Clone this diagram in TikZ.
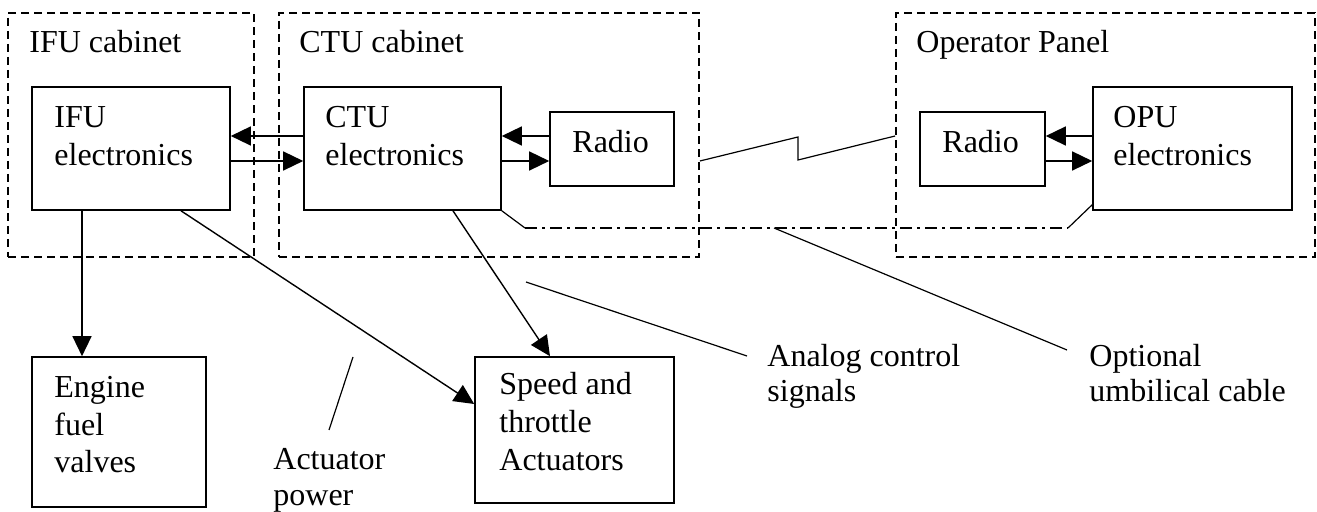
\documentclass[tikz,border=0pt]{standalone}
\usepackage{fontspec}
\setmainfont{Liberation Serif}
\usetikzlibrary{arrows.meta}
\begin{document}
\begin{tikzpicture}[x=0.5pt,y=-0.5pt,
  cab/.style={draw, line width=0.9pt, dash pattern=on 4pt off 2.5pt, minimum height=122pt, inner sep=0pt},
  blk/.style={draw, line width=0.8pt, inner sep=0pt},
  txt/.style={anchor=base west, inner sep=0pt, font=\fontsize{16pt}{18.8pt}\selectfont},
  arr/.style={line width=0.7pt, -{Triangle[length=10pt,width=9.5pt]}},
  ln/.style={line width=0.6pt},
  dd/.style={line width=0.6pt, dash pattern=on 6pt off 2.5pt on 1.5pt off 2.5pt}]
\useasboundingbox (0,0) rectangle (1317,512);
% cabinets
\node[cab, minimum width=123pt] (ifucab) at (131,135) {};
\node[cab, minimum width=210pt] (ctucab) at (489,135) {};
\node[cab, minimum width=209.5pt] (opcab) at (1105.5,135) {};
% blocks
\node[blk, minimum width=99pt, minimum height=61.5pt] (ifu) at (131,148.5) {};
\node[blk, minimum width=98.5pt, minimum height=61.5pt] (ctu) at (402.5,148.5) {};
\node[blk, minimum width=62pt, minimum height=37pt] (radioa) at (612,149) {};
\node[blk, minimum width=62.5pt, minimum height=37pt] (radiob) at (982.5,149) {};
\node[blk, minimum width=99.5pt, minimum height=61.5pt] (opu) at (1192.5,148.5) {};
\node[blk, minimum width=87pt, minimum height=75pt] (engine) at (119,432) {};
\node[blk, minimum width=99.5pt, minimum height=73pt] (speed) at (574.5,430) {};
% texts
\node[txt] (t1) at (29,53) {IFU cabinet};
\node[txt] (t2) at (299,53) {CTU cabinet};
\node[txt] (t3) at (916,53) {Operator Panel};
\node[txt] (t4) at (54,128) {IFU};
\node[txt] (t5) at (54,166) {electronics};
\node[txt] (t6) at (325,128) {CTU};
\node[txt] (t7) at (325,166) {electronics};
\node[txt] (t8) at (572,153) {Radio};
\node[txt] (t9) at (942,153) {Radio};
\node[txt] (t10) at (1113,128) {OPU};
\node[txt] (t11) at (1113,166) {electronics};
\node[txt] (t12) at (54,398) {Engine};
\node[txt] (t13) at (54,436) {fuel};
\node[txt] (t14) at (54,473) {valves};
\node[txt] (t15) at (499,395) {Speed and};
\node[txt] (t16) at (499,433) {throttle};
\node[txt] (t17) at (499,471) {Actuators};
\node[txt] (t18) at (273,470) {Actuator};
\node[txt] (t19) at (273,506) {power};
\node[txt] (t20) at (767,367) {Analog control};
\node[txt] (t21) at (767,402) {signals};
\node[txt] (t22) at (1089,367) {Optional};
\node[txt] (t23) at (1089,402) {umbilical cable};
% helper coordinates
\coordinate (yA) at (0,136);
\coordinate (yB) at (0,161);
\coordinate (xE) at (82,0);
\coordinate (xD) at (181,0);
\coordinate (yD) at (0,404);
\coordinate (xC) at (453,0);
\coordinate (xS) at (550,0);
% horizontal arrows
\draw[arr] (ctu.west |- yA) -- (ifu.east |- yA);
\draw[arr] (ifu.east |- yB) -- (ctu.west |- yB);
\draw[arr] (radioa.west |- yA) -- (ctu.east |- yA);
\draw[arr] (ctu.east |- yB) -- (radioa.west |- yB);
\draw[arr] (opu.west |- yA) -- (radiob.east |- yA);
\draw[arr] (radiob.east |- yB) -- (opu.west |- yB);
% downward arrows
\draw[arr] (ifu.south -| xE) -- (engine.north -| xE);
\draw[arr] (ifu.south -| xD) -- (speed.west |- yD);
\draw[arr] (ctu.south -| xC) -- (speed.north -| xS);
% radio link
\coordinate (z1) at (798,137);
\coordinate (z2) at (798,160);
\draw[ln] (ctucab.east |- yB) -- (z1) -- (z2) -- (opcab.west |- yA);
% umbilical cable
\coordinate (u1) at (525,228);
\coordinate (u2) at (1068,228);
\coordinate (u3) at (1093,204);
\draw[ln] (ctu.south east) -- (u1);
\draw[dd] (u1) -- (u2);
\draw[ln] (u2) -- (u3);
% leaders
\coordinate (la1) at (353,357);
\coordinate (la2) at (329,430);
\draw[ln] (la1) -- (la2);
\coordinate (lb1) at (526,282);
\coordinate (lb2) at (747,356);
\draw[ln] (lb1) -- (lb2);
\coordinate (lc1) at (774,228);
\coordinate (lc2) at (1067,350);
\draw[ln] (lc1) -- (lc2);
\end{tikzpicture}
\end{document}
